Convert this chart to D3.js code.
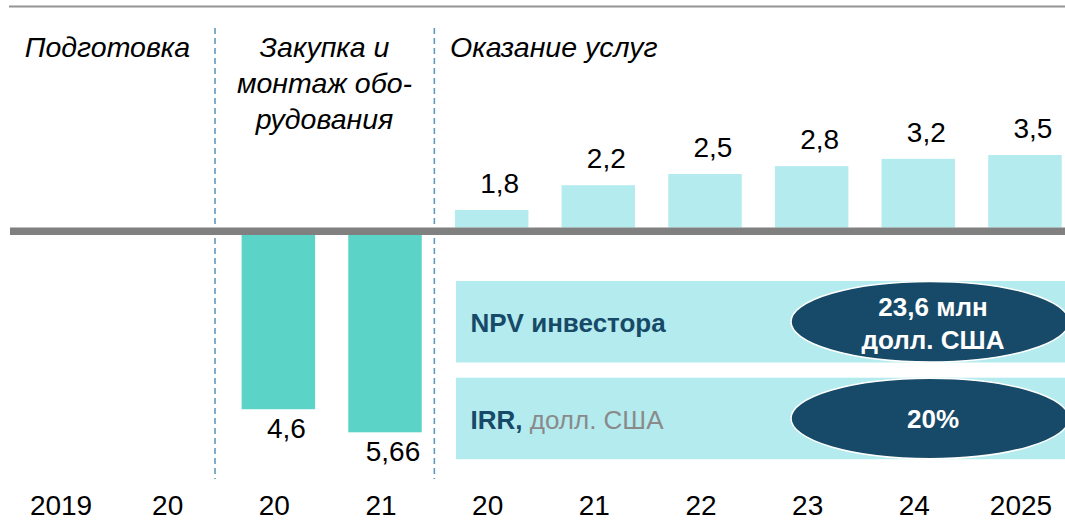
<!DOCTYPE html>
<html>
<head>
<meta charset="utf-8">
<script src="https://cdn.jsdelivr.net/npm/d3@7"></script>
<style>
  html, body { margin: 0; padding: 0; background: #fff; }
  svg { display: block; font-family: "Liberation Sans", Arial, sans-serif; }
</style>
</head>
<body>
<svg id="chart" width="1065" height="521"></svg>
<script>
// годы по оси X
var years = ['2019', '20', '20', '21', '20', '21', '22', '23', '24', '2025'];
// денежный поток: минус — вложения, плюс — доход
var flows = [null, null, -4.6, -5.66, 1.8, 2.2, 2.5, 2.8, 3.2, 3.5];
// этапы проекта и индексы, где начинается следующий этап
var phaseTitles = [
  ['Подготовка'],
  ['Закупка и', 'монтаж обо-', 'рудования'],
  ['Оказание услуг']
];
var phaseStarts = [2, 4];
// итоговые показатели
var kpiNames = ['NPV инвестора', 'IRR,'];
var kpiNotes = ['', ' долл. США'];
var kpiValues = [['23,6 млн', 'долл. США'], ['20%']];

var W = 1065, H = 521;
var colPos = '#b4ebee', colNeg = '#5bd3c7', navy = '#174a68';
var axisTop = 227.5, axisBottom = 235;

var svg = d3.select('#chart');

var x = d3.scaleBand()
  .domain(d3.range(years.length))
  .range([11.7, 1078.3])
  .paddingInner(0.311)
  .paddingOuter(0.1555);

// на слайде столбцы нарисованы "сжатыми" — поэтому степенные шкалы
var yPos = d3.scalePow().exponent(-2)
  .domain([1.62, 3.5])
  .range([axisTop, 155]);
var yNeg = d3.scalePow().exponent(0.6)
  .domain([0, 5.66])
  .range([axisBottom, 432.3]);

var fmt = function(v) { return String(Math.abs(v)).replace('.', ','); };
var cx = function(i) { return x(i) + x.bandwidth() / 2; };

// верхняя линия
svg.append('line')
  .attr('x1', 9).attr('x2', W)
  .attr('y1', 6.5).attr('y2', 6.5)
  .attr('stroke', '#949494')
  .attr('stroke-width', 2);

// пунктир между этапами
svg.selectAll('line.phase')
  .data(phaseStarts)
  .enter().append('line')
  .attr('class', 'phase')
  .attr('x1', function(d, i) { return (cx(d - 1) + cx(d)) / 2 - (i == 0 ? 10 : 4); })
  .attr('x2', function(d, i) { return (cx(d - 1) + cx(d)) / 2 - (i == 0 ? 10 : 4); })
  .attr('y1', 28).attr('y2', 479)
  .attr('stroke', '#5d9bbf')
  .attr('stroke-width', 1.6)
  .attr('stroke-dasharray', '6,4');

// заголовки этапов
var titleX = [107.5, 324.5, 450];
var titleAnchor = ['middle', 'middle', 'start'];
phaseTitles.forEach(function(lines, p) {
  svg.append('text')
    .attr('font-size', '28.5px')
    .attr('font-style', 'italic')
    .attr('fill', '#000')
    .attr('text-anchor', titleAnchor[p])
    .selectAll('tspan')
    .data(lines)
    .enter().append('tspan')
    .attr('x', titleX[p])
    .attr('y', function(d, i) { return 57 + i * 36; })
    .text(function(d) { return d; });
});

var bars = flows.map(function(v, i) { return { i: i, v: v }; })
  .filter(function(d) { return d.v != null; });

svg.selectAll('rect.bar')
  .data(bars)
  .enter().append('rect')
  .attr('class', 'bar')
  .attr('x', function(d) { return x(d.i); })
  .attr('width', x.bandwidth())
  .attr('y', function(d) { return d.v > 0 ? yPos(d.v) : axisBottom; })
  .attr('height', function(d) { return d.v > 0 ? axisTop - yPos(d.v) : yNeg(-d.v) - axisBottom; })
  .attr('fill', function(d) { return d.v > 0 ? colPos : colNeg; });

// ось
svg.append('line')
  .attr('x1', 10).attr('x2', W)
  .attr('y1', (axisTop + axisBottom) / 2).attr('y2', (axisTop + axisBottom) / 2)
  .attr('stroke', '#808080')
  .attr('stroke-width', axisBottom - axisTop);

// подписи значений
svg.selectAll('text.val')
  .data(bars)
  .enter().append('text')
  .attr('class', 'val')
  .attr('x', function(d) { return cx(d.i) + 8; })
  .attr('y', function(d) { return d.v > 0 ? yPos(d.v) - 17 : yNeg(-d.v) + 29; })
  .attr('text-anchor', 'middle')
  .attr('font-size', '28px')
  .attr('fill', '#000')
  .text(function(d) { return fmt(d.v); });

// годы
svg.selectAll('text.year')
  .data(years)
  .enter().append('text')
  .attr('class', 'year')
  .attr('x', function(d, i) { return cx(i) - 4; })
  .attr('y', 514.5)
  .attr('text-anchor', 'middle')
  .attr('font-size', '28px')
  .attr('fill', '#000')
  .text(function(d) { return d; });

// блоки NPV / IRR
var boxTop = [281, 377.7], boxH = 81.5;
var ellCx = 930, ellRx = 139;

kpiNames.forEach(function(name, k) {
  var g = svg.append('g');
  var cy = boxTop[k] + boxH / 2;

  g.append('rect')
    .attr('x', x(4) + 1)
    .attr('y', boxTop[k])
    .attr('width', W - x(4) - 1)
    .attr('height', boxH)
    .attr('fill', colPos);

  var t = g.append('text')
    .attr('x', 470.5)
    .attr('y', cy + 10.5)
    .attr('font-size', '26px');
  t.append('tspan')
    .attr('font-weight', 'bold')
    .attr('fill', navy)
    .text(name);
  t.append('tspan')
    .attr('fill', '#8a8a8a')
    .text(kpiNotes[k]);

  g.append('ellipse')
    .attr('cx', ellCx)
    .attr('cy', cy)
    .attr('rx', ellRx)
    .attr('ry', boxH / 2 - 0.5)
    .attr('fill', navy)
    .attr('stroke', '#fff')
    .attr('stroke-width', 1.5);

  var lines = kpiValues[k];
  g.append('text')
    .attr('text-anchor', 'middle')
    .attr('font-size', '26px')
    .attr('font-weight', 'bold')
    .attr('fill', '#fff')
    .selectAll('tspan')
    .data(lines)
    .enter().append('tspan')
    .attr('x', ellCx + 3)
    .attr('y', function(d, i) {
      return lines.length == 1 ? cy + 9.5 : cy - 5.5 + i * 32.5;
    })
    .text(function(d) { return d; });
});
</script>
</body>
</html>
